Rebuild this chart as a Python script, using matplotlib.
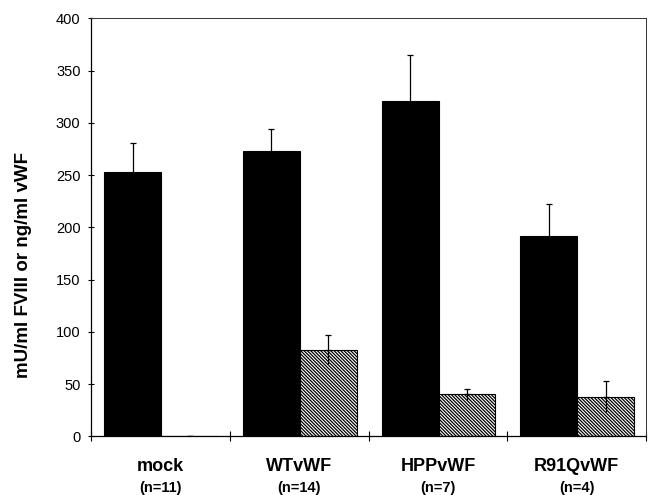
import matplotlib
matplotlib.use("Agg")
import matplotlib.pyplot as plt
import numpy as np

# values
groups = ["mock", "WTvWF", "HPPvWF", "R91QvWF"]
counts = ["(n=11)", "(n=14)", "(n=7)", "(n=4)"]
fviii = [253, 273, 321, 192]
fviii_err = [28, 21, 44, 30]
vwf = [0, 83, 40, 38]
vwf_err = [0, 14, 5, 15]

plt.rcParams["font.family"] = ["Liberation Sans", "DejaVu Sans"]
plt.rcParams["hatch.linewidth"] = 0.9

fig = plt.figure(figsize=(6.48, 4.95), dpi=100)
ax = fig.add_axes([0.1404, 0.1186, 0.8566, 0.8444])

x = np.arange(len(groups))
width = 0.41
err_kw = dict(ecolor="black", elinewidth=0.9, capsize=2.5, capthick=0.9)

ax.bar(x + 0.3, fviii, width, yerr=fviii_err, color="black",
       edgecolor="black", linewidth=0.8, error_kw=err_kw, zorder=2)
ax.bar(x + 0.71, vwf, width, yerr=[np.zeros(4), vwf_err], color="white",
       edgecolor="black", linewidth=0.8, hatch="\\" * 10,
       error_kw=err_kw, zorder=2)
# lower half of the hatched error bars, visible over the hatch
ax.errorbar(x + 0.71, vwf, yerr=[vwf_err, np.zeros(4)], fmt="none",
            ecolor="black", elinewidth=0.9, capsize=0, zorder=3)

ax.set_xlim(0, 4)
ax.set_ylim(0, 400)
ax.set_yticks(np.arange(0, 401, 50))
ax.set_xticks(np.arange(0, 5))
ax.set_xticklabels([])
ax.tick_params(axis="y", direction="inout", length=5, width=0.8,
               labelsize=10.5, pad=5)
ax.tick_params(axis="x", direction="inout", length=7, width=0.8)

for s in ["left", "bottom"]:
    ax.spines[s].set_linewidth(0.9)
for s in ["top", "right"]:
    ax.spines[s].set_linewidth(0.7)
    ax.spines[s].set_color("#333333")

tr = ax.get_xaxis_transform()
for i in range(len(groups)):
    ax.text(i + 0.5, -0.073, groups[i], transform=tr, ha="center",
            va="center", fontsize=13, fontweight="bold")
    ax.text(i + 0.5, -0.124, counts[i], transform=tr, ha="center",
            va="center", fontsize=10.5, fontweight="bold")

fig.text(0.036, 0.465, "mU/ml FVIII or ng/ml vWF", rotation=90,
         ha="center", va="center", fontsize=13.5, fontweight="bold")

fig.savefig("out.png", dpi=100)
